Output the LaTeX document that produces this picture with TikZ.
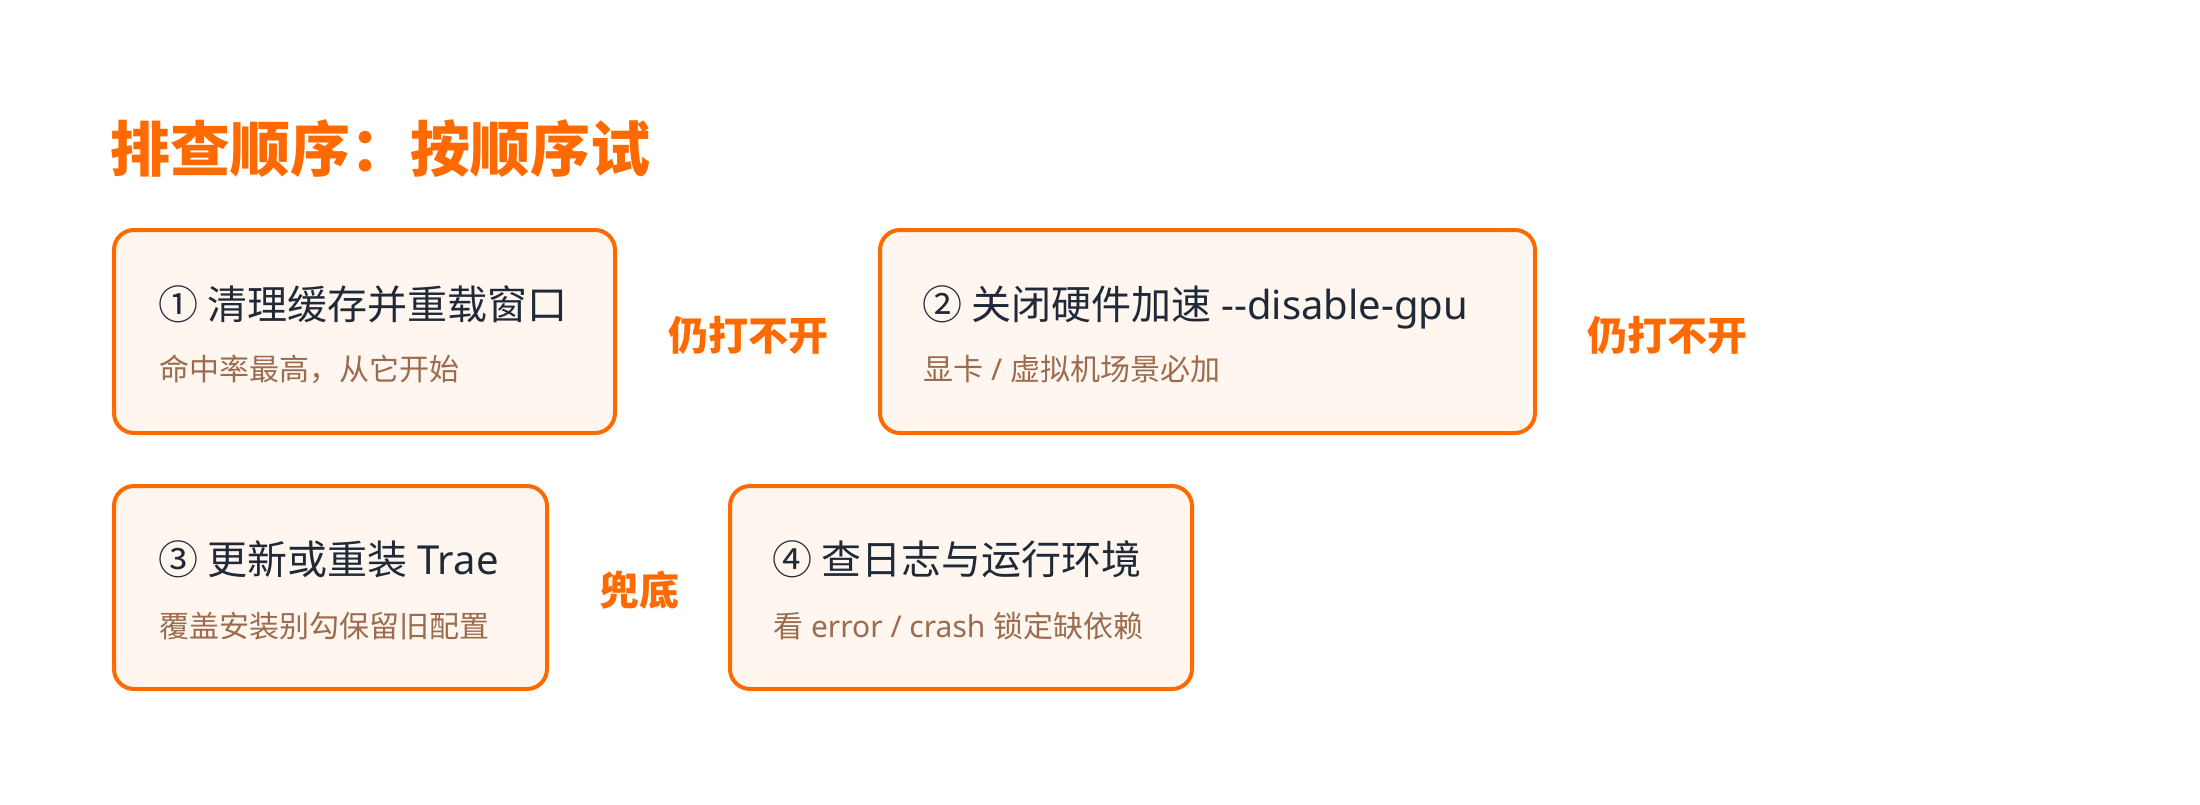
\documentclass[tikz,border=0pt]{standalone}
\usepackage{fontspec}
\setmainfont{Noto Sans CJK SC}
\newfontfamily\latinfont{Noto Sans}
\definecolor{stepOrange}{HTML}{FF6A00}
\definecolor{stepFill}{HTML}{FFF6F0}
\definecolor{stepMain}{HTML}{1F2937}
\definecolor{stepSub}{HTML}{9C6B4E}

\begin{document}
\begin{tikzpicture}[x=0.75pt, y=-0.75pt,
	stepbox/.style={draw=stepOrange, fill=stepFill, line width=3pt, rounded corners=15pt, minimum height=152.25pt, inner sep=0pt},
	steptitle/.style={anchor=base west, inner sep=0pt, text=stepMain, font=\fontsize{30pt}{36pt}\selectfont},
	stepnote/.style={anchor=base west, inner sep=0pt, text=stepSub, font=\fontsize{22.5pt}{27pt}\selectfont},
	fallback/.style={anchor=base, inner sep=0pt, text=stepOrange, font=\bfseries\fontsize{30pt}{36pt}\selectfont}]
	\useasboundingbox (0, 0) rectangle (2200, 804);
	% Heading:
	\node[anchor=base west, inner sep=0pt, text=stepOrange, font=\bfseries\fontsize{45pt}{54pt}\selectfont] (heading) at (110, 171){排查顺序：按顺序试};
	% Boxes, row one:
	\node[stepbox, minimum width=375.75pt] (cache) at (364.5, 331.5){};
	\node[stepbox, minimum width=491.25pt] (gpu) at (1207.5, 331.5){};
	% Boxes, row two:
	\node[stepbox, minimum width=324.75pt] (reinstall) at (330.5, 587.5){};
	\node[stepbox, minimum width=346.5pt] (logs) at (961, 587.5){};
	% Texts in the boxes:
	\node[steptitle] (cachetitle) at (158, 319){① 清理缓存并重载窗口};
	\node[stepnote] (cachenote) at (159, 380){命中率最高，从它开始};
	\node[steptitle] (gputitle) at (922, 319){② 关闭硬件加速{\latinfont{} -{}-disable-gpu}};
	\node[stepnote] (gpunote) at (923, 380){显卡{\latinfont{} / }虚拟机场景必加};
	\node[steptitle] (reinstalltitle) at (158, 574){③ 更新或重装{\latinfont{} Trae}};
	\node[stepnote] (reinstallnote) at (159, 637){覆盖安装别勾保留旧配置};
	\node[steptitle] (logstitle) at (772, 574){④ 查日志与运行环境};
	\node[stepnote] (logsnote) at (773, 637){看{\latinfont{} error / crash }锁定缺依赖};
	% Labels between the boxes:
	\node[fallback] (stillone) at (748, 350){仍打不开};
	\node[fallback] (stilltwo) at (1667.5, 350){仍打不开};
	\node[fallback] (lastresort) at (639.5, 605){兜底};
\end{tikzpicture}
\end{document}
